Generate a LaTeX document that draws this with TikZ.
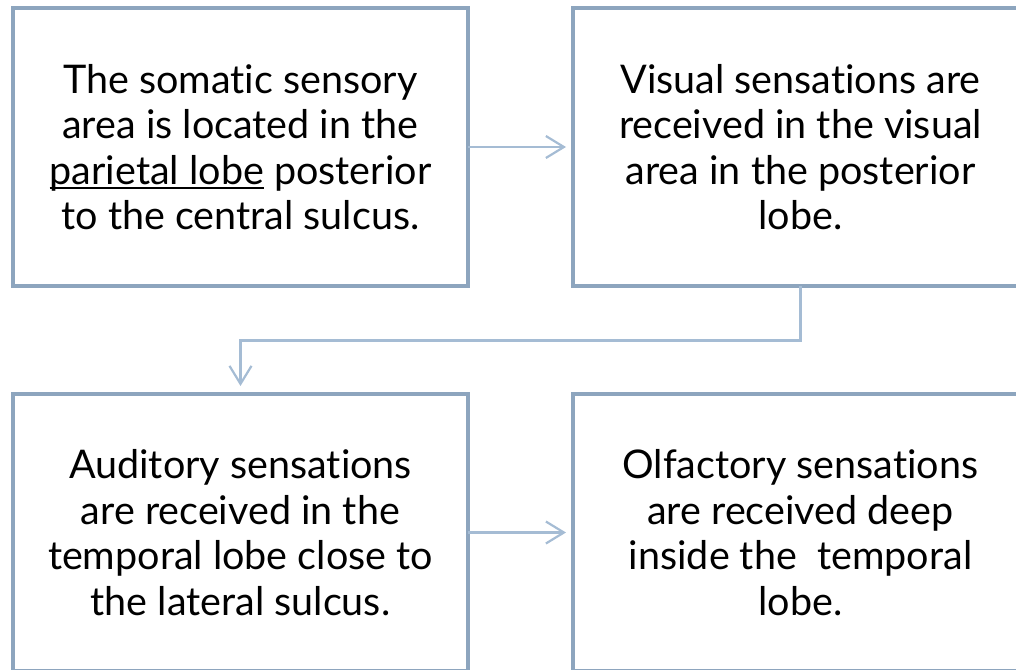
\documentclass[tikz,border=0pt]{standalone}
\usepackage{fontspec}
\setmainfont{Lato}[Ligatures={NoCommon}]
\usetikzlibrary{arrows.meta}
\definecolor{boxline}{RGB}{141,165,190}
\definecolor{linkline}{RGB}{165,188,212}
% underline that sits just under the baseline
\newcommand\ulin[1]{\setbox0\hbox{#1}\rlap{\rule[-4.5pt]{\wd0}{1.8pt}}\box0\relax}
\tikzset{
  card/.style={draw=boxline, line width=4pt, rectangle, inner sep=0pt, outer sep=0pt,
    minimum width=455pt, minimum height=277pt, align=center,
    font=\fontsize{39.5}{45.5}\selectfont},
  link/.style={draw=linkline, line width=2.2pt,
    -{Straight Barb[length=18pt,width=22pt,line width=2.2pt]}},
}
\begin{document}
\begin{tikzpicture}[x=1pt,y=-1pt]
\useasboundingbox (0,0) rectangle (1016,669);
\clip (0,0) rectangle (1016,669);
\node[card] (somatic) at (240.5,147) {The somatic sensory\\area is located in the\\\ulin{parietal lobe} posterior\\to the central sulcus.};
\node[card] (visual) at (800.5,147) {Visual sensations are\\received in the visual\\area in the posterior\\lobe.};
\node[card] (auditory) at (240.5,532.5) {Auditory sensations\\are received in the\\temporal lobe close to\\the lateral sulcus.};
\node[card] (olfactory) at (800.5,532.5) {Olfactory sensations\\are received deep\\inside the\ \ temporal\\lobe.};
\draw[link] (somatic.east) -- ([xshift=-7pt]visual.west);
\draw[link] (visual.south) -- ++(0,55) -| ([yshift=8pt]auditory.north);
\draw[link] (auditory.east) -- ([xshift=-7pt]olfactory.west);
\end{tikzpicture}
\end{document}
